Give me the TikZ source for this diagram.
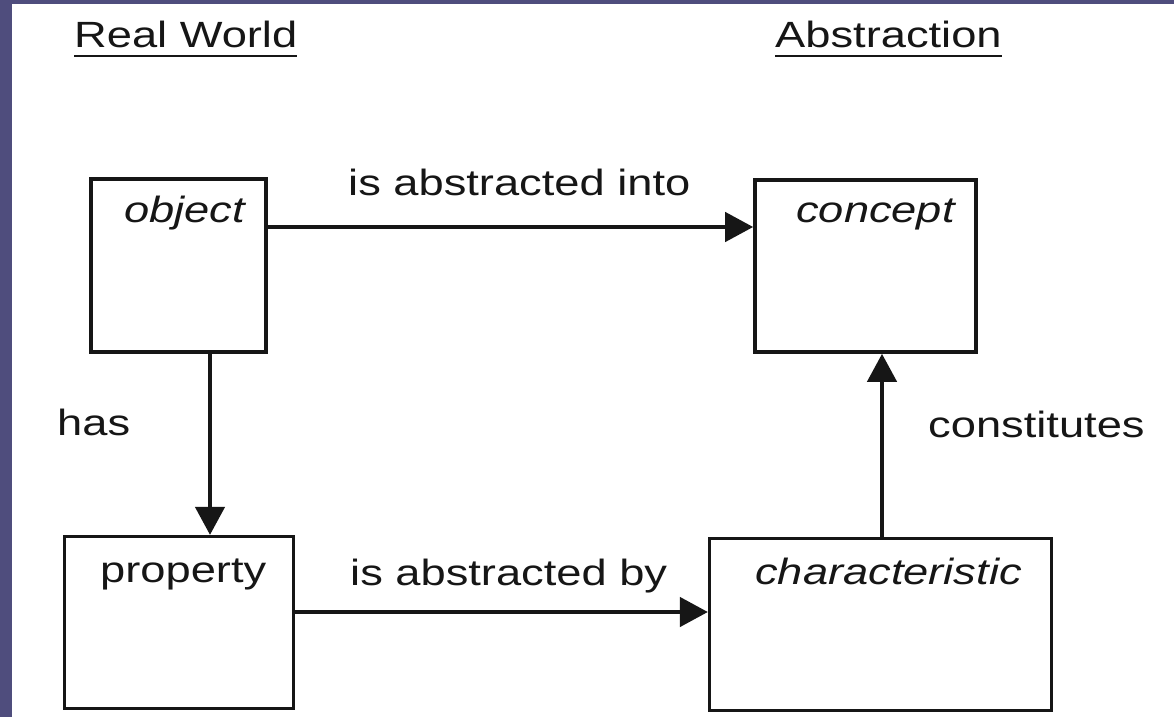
\documentclass[tikz,border=0pt]{standalone}
\usepackage{fontspec}
\setmainfont{Liberation Sans}[FakeStretch=1.24]
\usetikzlibrary{arrows.meta}
\definecolor{bord}{RGB}{79,77,125}
\definecolor{ink}{RGB}{22,22,22}
\tikzset{
  box/.style={draw=ink, line width=3.2pt, inner sep=0pt, minimum width=#1},
  lbl/.style={anchor=base west, inner sep=0pt, text=ink, font=\fontsize{36.5}{44}\selectfont},
  arr/.style={draw=ink, line width=4.4pt, -{Triangle[length=28pt,width=29pt]}},
  uline/.style={draw=ink, line width=2.5pt}
}
\begin{document}
\begin{tikzpicture}[x=1pt,y=-1pt]
\useasboundingbox (0,0) rectangle (1174,717);
\fill[white] (0,0) rectangle (1174,717);
\fill[bord] (0,0) rectangle (12,717);
\fill[bord] (0,0) rectangle (1174,4);

% headings
\node[lbl] (rw) at (74,48) {Real World};
\node[lbl] (ab) at (775,48) {Abstraction};
\draw[uline] (rw.south west |- 0,56) -- (rw.south east |- 0,56);
\draw[uline] (ab.south west |- 0,56) -- (ab.south east |- 0,56);

% boxes
\node[box=175pt, minimum height=173pt, line width=3.6pt] (obj) at (178.5,265.5) {};
\node[box=221pt, minimum height=172pt, line width=3.6pt] (con) at (865.5,266) {};
\node[box=229pt, minimum height=172pt] (prop) at (179,622.5) {};
\node[box=342pt, minimum height=172pt] (char) at (880.5,624.5) {};

% box texts
\node[lbl] (tobj) at (124,222) {\itshape object};
\node[lbl] (tcon) at (796,222) {\itshape concept};
\node[lbl] (tprop) at (100,582) {property};
\node[lbl] (tchar) at (755,584) {\itshape characteristic};

% connectors
\draw[arr] (obj.east |- 0,227) -- (con.west |- 0,227);
\draw[arr] (obj.south -| 210,0) -- (prop.north -| 210,0);
\draw[arr] (prop.east |- 0,612) -- (char.west |- 0,612);
\draw[arr] (char.north -| 882,0) -- (con.south -| 882,0);

% connector labels
\node[lbl] (l1) at (348,195) {is abstracted into};
\node[lbl] (l2) at (57,435) {has};
\node[lbl] (l3) at (350,585) {is abstracted by};
\node[lbl] (l4) at (928,437) {constitutes};
\end{tikzpicture}
\end{document}
